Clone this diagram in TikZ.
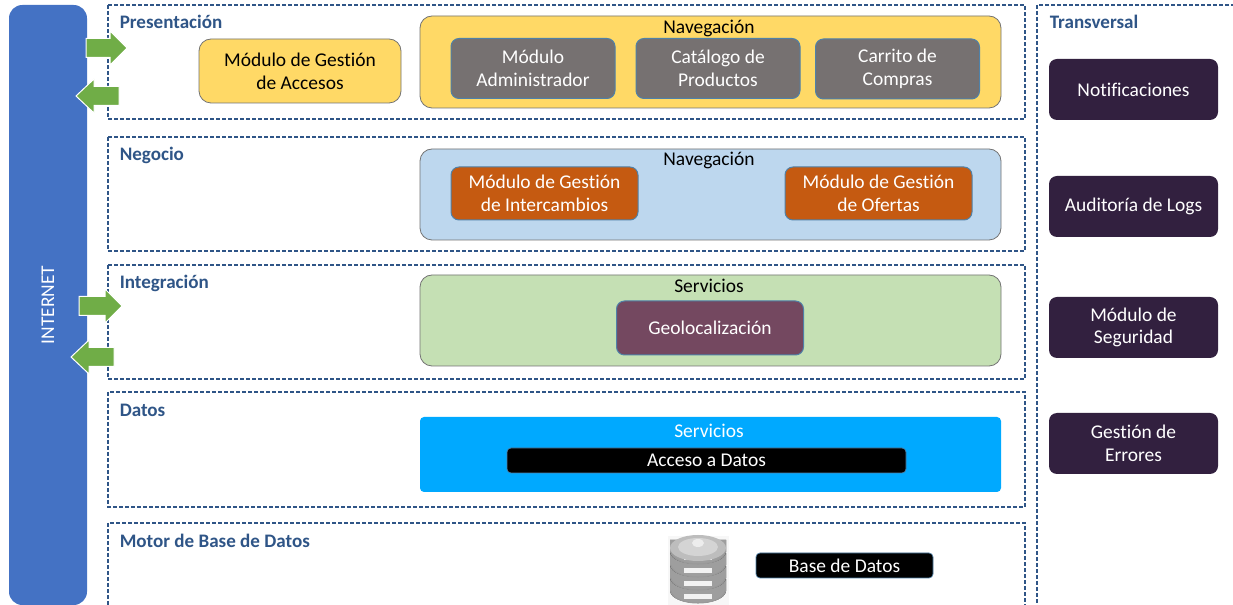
\documentclass[tikz,border=0pt]{standalone}
\usepackage{fontspec}
\setmainfont[Ligatures=NoCommon]{Carlito}
\usetikzlibrary{calc}
\definecolor{layerblue}{HTML}{2F5587}
\definecolor{netblue}{HTML}{4472C4}
\definecolor{arrowgreen}{HTML}{70AD47}
\definecolor{accessyellow}{HTML}{FFD966}
\definecolor{modgray}{HTML}{767171}
\definecolor{modborder}{HTML}{4F81A8}
\definecolor{bizblue}{HTML}{BDD7EE}
\definecolor{bizorange}{HTML}{C55A11}
\definecolor{intgreen}{HTML}{C5E0B4}
\definecolor{geopurple}{HTML}{744860}
\definecolor{datacyan}{HTML}{00A9FF}
\definecolor{crossdark}{HTML}{32203F}
\def\rightflow(#1,#2)(#3){\draw[flow] (#1, #2-9.5) -- (#3-17, #2-9.5) -- (#3-17, #2-17) -- (#3, #2) -- (#3-17, #2+17) -- (#3-17, #2+9.5) -- (#1, #2+9.5) -- cycle;}
\def\leftflow(#1,#2)(#3){\draw[flow] (#1, #2-9.5) -- (#3+18, #2-9.5) -- (#3+18, #2-17) -- (#3, #2) -- (#3+18, #2+17) -- (#3+18, #2+9.5) -- (#1, #2+9.5) -- cycle;}
\def\dbdisk(#1){
	\fill[left color=black!38, middle color=black!14, right color=black!38] (670, #1) -- (670, #1+12) .. controls (672, #1+28) and (724, #1+28) .. (726, #1+12) -- (726, #1) -- cycle;
	\fill[black!5] (684, #1+15) rectangle (712, #1+20);
	\draw[black!40, line width=0.8pt] (671, #1+12) .. controls (674, #1+28) and (722, #1+28) .. (725, #1+12);
}
\tikzset{
	size/.style 2 args={minimum width=#1*0.75pt, minimum height=#2*0.75pt},
	layer/.style={draw=layerblue, dash pattern=on 3pt off 1.5pt, line width=0.8pt},
	layertitle/.style={anchor=west, inner sep=0pt, text=layerblue, font=\fontsize{14.3}{17}\selectfont\bfseries},
	card/.style={rounded corners=9pt, inner sep=0pt, align=center, font=\fontsize{14.6}{17.4}\selectfont},
	module/.style={card, draw=modborder, line width=0.75pt, rounded corners=6pt, text=white},
	flow/.style={draw=white, line width=0.75pt, fill=arrowgreen},
	panel/.style={card, draw=black!55, line width=0.6pt},
	crossbox/.style={card, rounded corners=6pt, fill=crossdark, text=white},
	blackbox/.style={card, rounded corners=3pt, draw=modborder, line width=0.5pt, fill=black, text=white},
}

\begin{document}
\begin{tikzpicture}[x=0.75pt, y=-0.75pt]
		%%%%% FRAME %%%%%
		\useasboundingbox (0, 0) rectangle (1233, 605);
		\clip (0, 0) rectangle (1233, 605);
		\fill[white] (0, 0) rectangle (1233, 605);
		
		%%%%% INTERNET %%%%%
		\node (internet) [card, size={78}{600}, rounded corners=10pt, fill=netblue, text=white] at (48, 305) {\rotatebox{90}{INTERNET}};
		
		%%%%% LAYERS %%%%%
		\draw[layer] (108, 5) rectangle (1025, 119);
		\draw[layer] (108, 137) rectangle (1025, 251);
		\draw[layer] (108, 265) rectangle (1025, 379);
		\draw[layer] (108, 392) rectangle (1025, 507);
		\draw[layer] (108, 523) rectangle (1025, 620);
		\draw[layer] (1037, 5) rectangle (1250, 620);
		
		\node (presentacion) [layertitle] at (119.5, 22) {Presentación};
		\node (negocio) [layertitle] at (119.5, 155.5) {Negocio};
		\node (integracion) [layertitle] at (119.5, 283.5) {Integración};
		\node (datos) [layertitle] at (119.5, 410.5) {Datos};
		\node (motor) [layertitle] at (119.5, 540.5) {Motor de Base de Datos};
		\node (transversal) [layertitle] at (1049.5, 22) {Transversal};
		
		%%%%% FLOWS %%%%%
		\rightflow(86, 48)(127);
		\leftflow(119, 96)(76);
		\rightflow(79, 306)(122);
		\leftflow(114, 357)(71);
		
		%%%%% PRESENTACION %%%%%
		\node (accesos) [panel, size={202}{64}, fill=accessyellow] at (300, 71) {Módulo de Gestión\\de Accesos};
		\node (navA) [panel, size={581}{92}, fill=accessyellow] at (710.5, 62) {};
		\node (navAtext) [card] at (709, 28.5) {Navegación};
		\node (admin) [module, size={164}{60}, fill=modgray] at (533, 68.5) {Módulo\\Administrador};
		\node (catalogo) [module, size={164}{60}, fill=modgray] at (718, 68.5) {Catálogo de\\Productos};
		\node (carrito) [module, size={164}{60}, fill=modgray] at (897.5, 69) {Carrito de\\Compras};
		
		%%%%% NEGOCIO %%%%%
		\node (navB) [panel, size={581}{91}, fill=bizblue] at (710.5, 194.5) {};
		\node (navBtext) [card] at (709, 160.5) {Navegación};
		\node (intercambios) [module, size={187}{53}, fill=bizorange] at (544.5, 193.5) {Módulo de Gestión\\de Intercambios};
		\node (ofertas) [module, size={187}{53}, fill=bizorange] at (878.5, 193.5) {Módulo de Gestión\\de Ofertas};
		
		%%%%% INTEGRACION %%%%%
		\node (servA) [panel, size={581}{91}, fill=intgreen] at (710.5, 320.5) {};
		\node (servAtext) [card] at (709, 286) {Servicios};
		\node (geo) [module, size={187}{54}, fill=geopurple] at (710, 328) {Geolocalización};
		
		%%%%% DATOS %%%%%
		\node (servB) [card, size={581}{75}, rounded corners=3pt, fill=datacyan] at (710.5, 454.5) {};
		\node (servBtext) [card, text=white] at (709, 431) {Servicios};
		\node (acceso) [blackbox, size={399}{25}] at (706.5, 460.5) {Acceso a Datos};
		
		%%%%% MOTOR %%%%%
		\fill[black!3] (668, 536) rectangle (729, 605);
		\dbdisk(579)
		\dbdisk(566)
		\dbdisk(553)
		\dbdisk(540)
		\fill[black!26] (698, 548) ellipse (28 and 13);
		\fill[black!17] (698, 547) ellipse (20 and 9);
		\fill[black!7] (698, 543) ellipse (6 and 4);
		\node (basedatos) [blackbox, size={177}{25}] at (844.5, 565.5) {Base de Datos};
		
		%%%%% TRANSVERSAL %%%%%
		\node (notificaciones) [crossbox, size={169}{61}] at (1133.5, 89.5) {Notificaciones};
		\node (auditoria) [crossbox, size={169}{61}] at (1133.5, 206.5) {Auditoría de Logs};
		\node (seguridad) [crossbox, size={169}{61}] at (1133.5, 327.5) {\raisebox{-1pt}{Módulo de}\\Seguridad};
		\node (errores) [crossbox, size={169}{61}] at (1133.5, 443.5) {Gestión de\\Errores};
		
	\end{tikzpicture}
\end{document}
